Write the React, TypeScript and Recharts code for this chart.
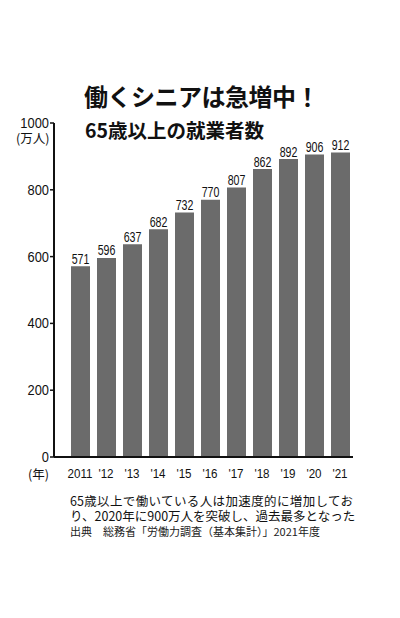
import React from 'react';
import { BarChart, Bar, XAxis, YAxis, LabelList } from 'recharts';

// 65歳以上の就業者数（万人）
const years = ['2011', "'12", "'13", "'14", "'15", "'16", "'17", "'18", "'19", "'20", "'21"];
const workers = [571, 596, 637, 682, 732, 770, 807, 862, 892, 906, 912];
const yTicks = [0, 200, 400, 600, 800, 1000];

const data = years.map((year, i) => ({ year, workers: workers[i] }));

const NUM_FONT = '"Liberation Sans", Arial, sans-serif';
const JP_FONT = '"Noto Sans CJK JP", "Noto Sans", sans-serif';

// 数字は細長い書体なので横方向に縮める
const XTick = (props: any) => {
    const { x, y, payload } = props;
    return (
        <text
            transform={`translate(${x},${y + 3}) scale(0.86,1)`}
            textAnchor="middle"
            dy="0.71em"
            fontSize={13.5}
            fill="#111"
            fontFamily={NUM_FONT}
        >
            {payload.value}
        </text>
    );
};

const YTick = (props: any) => {
    const { x, y, payload } = props;
    return (
        <text
            transform={`translate(${x + 1},${y}) scale(0.92,1)`}
            textAnchor="end"
            dy="0.355em"
            fontSize={14}
            fill="#111"
            fontFamily={NUM_FONT}
        >
            {payload.value}
        </text>
    );
};

const ValueLabel = (props: any) => {
    const { x, y, width, value } = props;
    return (
        <text
            transform={`translate(${x + width / 2},${y - 2.5}) scale(0.76,1)`}
            textAnchor="middle"
            fontSize={14}
            fill="#111"
            fontFamily={NUM_FONT}
        >
            {value}
        </text>
    );
};

const App: React.FC = () => {
    return (
        <div
            style={{
                position: 'absolute',
                left: 0,
                top: 0,
                width: 400,
                height: 618,
                background: '#fff',
                fontFamily: JP_FONT,
                color: '#111',
            }}
        >
            <div style={{ position: 'absolute', left: 84, top: 79, fontSize: 24, lineHeight: '34px', fontWeight: 700, letterSpacing: -0.5, whiteSpace: 'nowrap' }}>
                働くシニアは急増中！
            </div>
            <div style={{ position: 'absolute', left: 85, top: 116, fontSize: 19.5, lineHeight: '28px', fontWeight: 700, whiteSpace: 'nowrap' }}>
                65歳以上の就業者数
            </div>
            <div style={{ position: 'absolute', left: 16, top: 131, fontSize: 12.5, lineHeight: '13px', whiteSpace: 'nowrap' }}>
                (万人)
            </div>
            <div style={{ position: 'absolute', left: 28, top: 467, fontSize: 12.5, lineHeight: '13px', whiteSpace: 'nowrap' }}>
                (年)
            </div>

            <div style={{ position: 'absolute', left: 0, top: 0 }}>
                <BarChart
                    width={400}
                    height={618}
                    data={data}
                    margin={{ top: 123, right: 47, bottom: 131, left: 0 }}
                >
                    <XAxis
                        dataKey="year"
                        interval={0}
                        padding={{ left: 13, right: 0 }}
                        tickLine={false}
                        axisLine={{ stroke: '#111', strokeWidth: 2 }}
                        tick={<XTick />}
                        height={30}
                    />
                    <YAxis
                        domain={[0, 1000]}
                        ticks={yTicks}
                        width={54}
                        tickSize={4}
                        tickLine={{ stroke: '#111', strokeWidth: 1.5 }}
                        axisLine={{ stroke: '#111', strokeWidth: 2 }}
                        tick={<YTick />}
                    />
                    <Bar dataKey="workers" fill="#6b6b6b" barSize={19} isAnimationActive={false}>
                        <LabelList dataKey="workers" content={<ValueLabel />} />
                    </Bar>
                </BarChart>
            </div>

            <div style={{ position: 'absolute', left: 70, top: 493.5, width: 283, fontSize: 12.5, lineHeight: '13px', textAlign: 'justify', textAlignLast: 'justify', whiteSpace: 'nowrap' }}>
                65歳以上で働いている人は加速度的に増加してお
            </div>
            <div style={{ position: 'absolute', left: 70, top: 509, width: 283, fontSize: 12.5, lineHeight: '13px', textAlign: 'justify', textAlignLast: 'justify', whiteSpace: 'nowrap' }}>
                り、2020年に900万人を突破し、過去最多となった
            </div>
            <div style={{ position: 'absolute', left: 70, top: 525, fontSize: 11, lineHeight: '13px', whiteSpace: 'nowrap', color: '#222' }}>
                出典　総務省「労働力調査（基本集計）」2021年度
            </div>
        </div>
    );
};

export default App;
